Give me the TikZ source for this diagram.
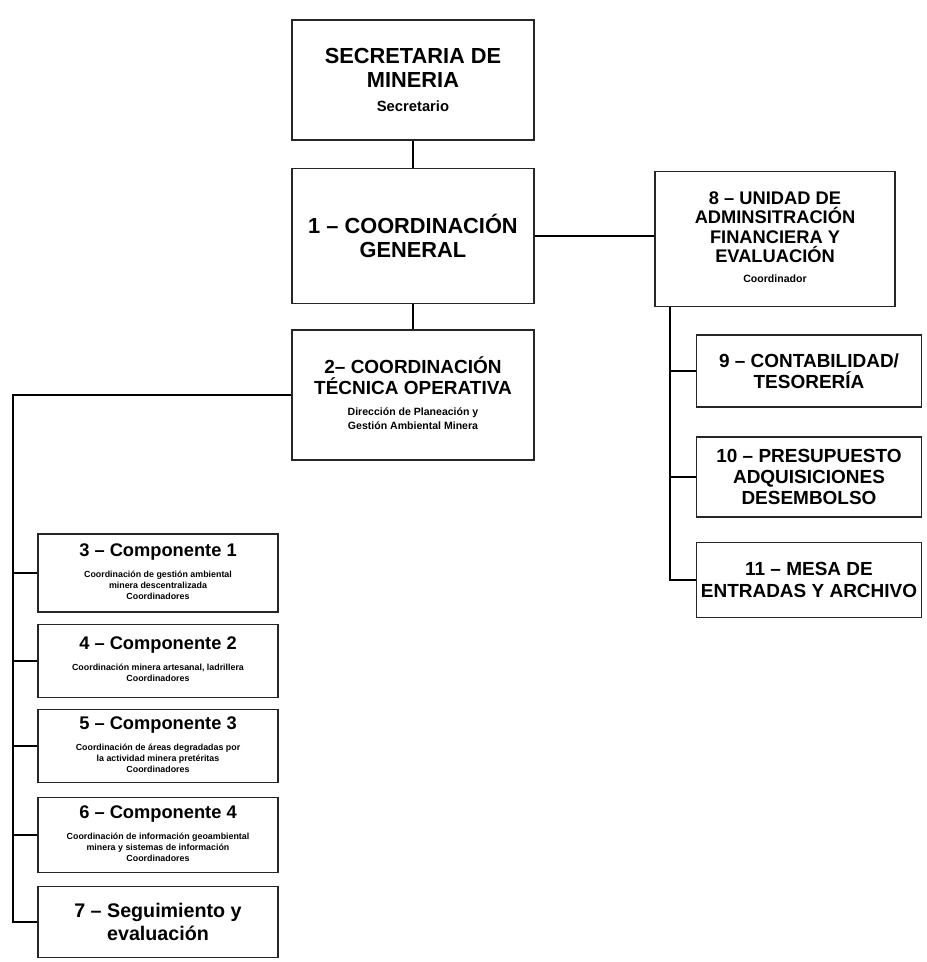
\documentclass[tikz,border=0pt]{standalone}
\usepackage{fontspec}
\setmainfont{Liberation Sans}
\newcommand{\smalltxt}[1]{{\fontsize{7.5}{9.5}\selectfont\begin{tabular}[t]{@{}c@{}}#1\end{tabular}}}
\newcommand{\tinytxt}[1]{{\fontsize{6.3}{7.6}\selectfont\begin{tabular}[t]{@{}c@{}}#1\end{tabular}}}

\begin{document}
\begin{tikzpicture}[x=0.025cm, y=-0.025cm, line width=1.1pt,
    unit/.style={draw=black!85, align=center, font=\bfseries, inner sep=2pt},
    big/.style={unit, minimum width=6.05cm},
    sub/.style={unit, minimum width=5.625cm, font=\bfseries\fontsize{13.5}{15}\selectfont},
    comp/.style={unit, minimum width=6cm, font=\bfseries\fontsize{13}{15}\selectfont}]
    \useasboundingbox (0,0) rectangle (927,962);

    % top of the chart
    \node[big, minimum height=3cm, font=\bfseries\fontsize{15.5}{17}\selectfont](sec) at (413,80)
        {SECRETARIA DE\\ MINERIA\\ {\fontsize{10.5}{12}\selectfont Secretario}};
    \node[big, minimum height=3.375cm, font=\bfseries\fontsize{15.5}{17}\selectfont](gen) at (413,236)
        {1 -- COORDINACIÓN\\ GENERAL};
    \node[big, minimum height=3.25cm, font=\bfseries\fontsize{13.5}{15}\selectfont](cto) at (413,395)
        {2-- COORDINACIÓN\\ TÉCNICA OPERATIVA\\
         \smalltxt{Dirección de Planeación y\\ Gestión Ambiental Minera}};
    \node[unit, minimum width=6cm, minimum height=3.375cm, font=\bfseries\fontsize{13}{13.8}\selectfont](uafe) at (775,239)
        {8 -- UNIDAD DE\\ ADMINSITRACIÓN\\ FINANCIERA Y\\ EVALUACIÓN\\ \smalltxt{Coordinador}};

    % administracion
    \node[sub, minimum height=1.8cm](cont) at (809,371) {9 -- CONTABILIDAD/\\ TESORERÍA};
    \node[sub, minimum height=2cm](pres) at (809,477) {10 -- PRESUPUESTO\\ ADQUISICIONES\\ DESEMBOLSO};
    \node[sub, minimum height=1.875cm](mesa) at (809,580) {11 -- MESA DE\\ ENTRADAS Y ARCHIVO};

    % componentes
    \node[comp, minimum height=1.95cm](c1) at (158,573)
        {3 -- Componente 1\\ \tinytxt{Coordinación de gestión ambiental\\ minera descentralizada\\ Coordinadores}};
    \node[comp, minimum height=1.825cm](c2) at (158,661)
        {4 -- Componente 2\\ \tinytxt{Coordinación minera artesanal, ladrillera\\ Coordinadores}};
    \node[comp, minimum height=1.825cm](c3) at (158,746)
        {5 -- Componente 3\\ \tinytxt{Coordinación de áreas degradadas por\\ la actividad minera pretéritas\\ Coordinadores}};
    \node[comp, minimum height=1.875cm](c4) at (158,835)
        {6 -- Componente 4\\ \tinytxt{Coordinación de información geoambiental\\ minera y sistemas de información\\ Coordinadores}};
    \node[comp, minimum height=1.775cm, font=\bfseries\fontsize{14}{16}\selectfont](eval) at (158,922)
        {7 -- Seguimiento y\\ evaluación};

    \coordinate(lb) at (13,0);
    \coordinate(rb) at (670,0);

    \draw (sec) -- (gen);
    \draw (gen) -- (cto);
    \draw (gen.east) -- (gen.east -| uafe.west);
    \draw (uafe.south -| rb) |- (mesa.west);
    \foreach \n in {cont,pres}
        \draw (\n.west) -- (\n.west -| rb);
    \draw (cto.west) -| (eval.west -| lb) -- (eval.west);
    \foreach \n in {c1,c2,c3,c4}
        \draw (\n.west) -- (\n.west -| lb);
\end{tikzpicture}
\end{document}
